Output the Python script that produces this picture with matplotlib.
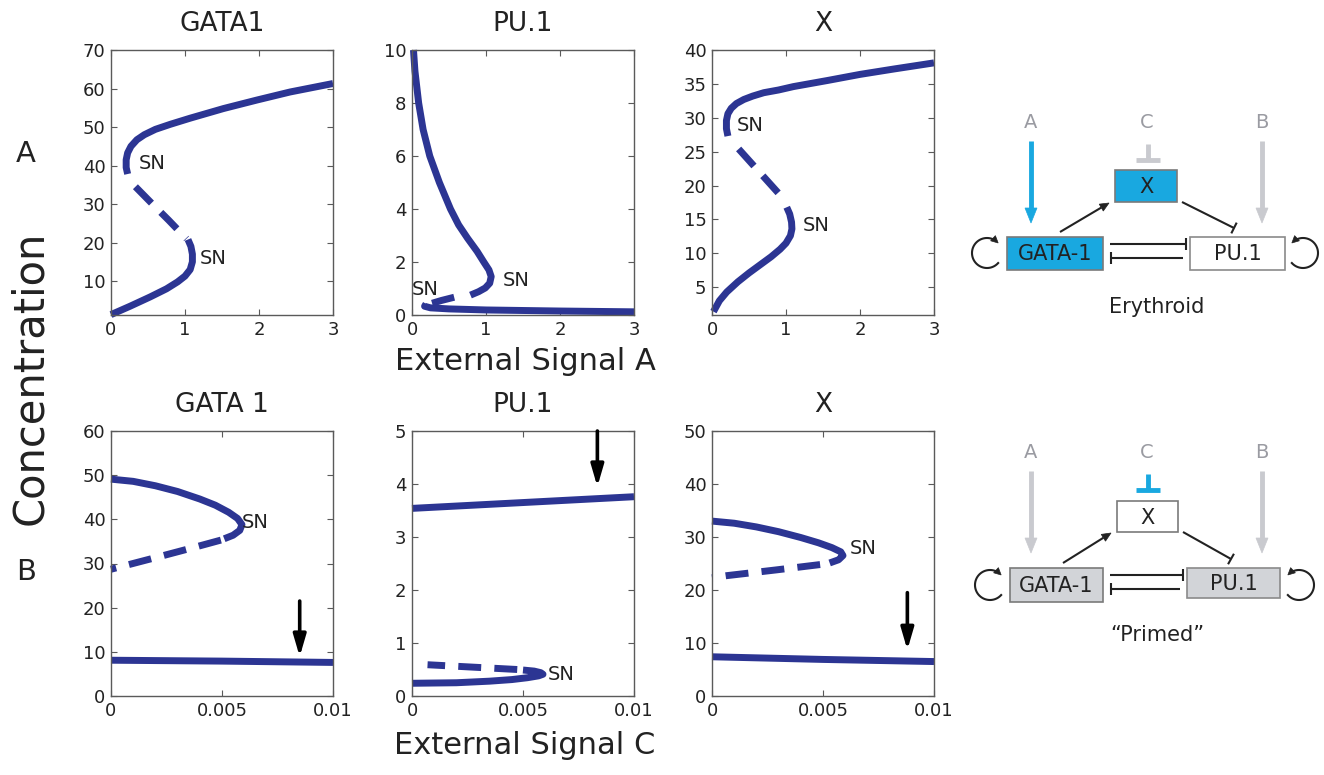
import numpy as np
import matplotlib
matplotlib.use('Agg')
import matplotlib.pyplot as plt
from matplotlib.patches import Rectangle, Polygon

plt.rcParams['font.family'] = ['DejaVu Sans']

BLUE = '#2c3593'
CYAN = '#19a8e0'
LGRAY = '#c9cacf'
TGRAY = '#9a9ba2'
BOXGRAY = '#d2d4d8'

# ---------------- Row A : External Signal A ----------------
# GATA1
gA_up_x = [0.225, 0.205, 0.205, 0.225, 0.27, 0.35, 0.45, 0.60, 0.80, 1.07, 1.52, 1.97, 2.42, 3.0]
gA_up_y = [37.8, 39.5, 41.5, 43.3, 45.0, 46.7, 48.0, 49.4, 50.7, 52.3, 54.8, 57.0, 59.1, 61.3]
gA_un_x = [0.33, 0.55, 0.78, 1.02]
gA_un_y = [34.5, 30.2, 25.8, 21.0]
gA_lo_x = [1.04, 1.08, 1.10, 1.10, 1.07, 1.0, 0.9, 0.75, 0.53, 0.26, 0.0]
gA_lo_y = [20.8, 19.0, 17.0, 15.0, 13.0, 11.3, 9.8, 8.0, 5.9, 3.5, 1.3]
# PU.1
pA_up_x = [0.02, 0.04, 0.09, 0.15, 0.24, 0.37, 0.52, 0.63, 0.75, 0.88, 0.97, 1.04, 1.07, 1.05, 0.99, 0.90, 0.79]
pA_up_y = [10.0, 9.2, 8.0, 7.0, 6.0, 5.0, 4.0, 3.4, 2.9, 2.4, 2.0, 1.7, 1.45, 1.2, 1.02, 0.88, 0.75]
pA_un_x = [0.57, 0.40, 0.22]
pA_un_y = [0.67, 0.55, 0.40]
pA_lo_x = [0.19, 0.17, 0.25, 0.5, 1.0, 2.0, 3.0]
pA_lo_y = [0.42, 0.33, 0.27, 0.23, 0.19, 0.15, 0.12]
# X
xA_up_x = [0.215, 0.195, 0.195, 0.215, 0.26, 0.33, 0.43, 0.55, 0.70, 0.90, 1.10, 1.56, 2.0, 2.46, 3.0]
xA_up_y = [27.3, 28.4, 29.6, 30.6, 31.4, 32.1, 32.7, 33.2, 33.7, 34.1, 34.6, 35.5, 36.4, 37.2, 38.1]
xA_un_x = [0.36, 0.97]
xA_un_y = [25.4, 18.0]
xA_lo_x = [1.01, 1.05, 1.075, 1.08, 1.06, 1.0, 0.92, 0.80, 0.65, 0.50, 0.35, 0.20, 0.10, 0.02]
xA_lo_y = [16.8, 15.8, 14.6, 13.6, 12.6, 11.5, 10.6, 9.5, 8.3, 7.1, 5.8, 4.3, 3.0, 1.4]

# ---------------- Row B : External Signal C ----------------
gC_up_x = [0.0, 0.001, 0.002, 0.003, 0.004, 0.0047, 0.0053, 0.0057, 0.0059, 0.0058, 0.0055, 0.0051]
gC_up_y = [49.1, 48.6, 47.6, 46.3, 44.6, 43.2, 41.6, 40.2, 38.8, 37.5, 36.4, 35.6]
gC_un_x = [0.00495, 0.00356, 0.00206, 0.0]
gC_un_y = [35.3, 33.4, 31.4, 28.7]
gC_lo_x = [0.0, 0.005, 0.01]
gC_lo_y = [8.1, 7.9, 7.6]

pC_hi_x = [0.0, 0.005, 0.01]
pC_hi_y = [3.54, 3.65, 3.76]
pC_lo_x = [0.0, 0.002, 0.0035, 0.0045, 0.0052, 0.0057, 0.0059, 0.0058, 0.0055, 0.0050]
pC_lo_y = [0.24, 0.25, 0.28, 0.31, 0.345, 0.38, 0.41, 0.44, 0.47, 0.49]
pC_un_x = [0.00474, 0.0007]
pC_un_y = [0.50, 0.59]

xC_up_x = [0.0, 0.001, 0.002, 0.003, 0.004, 0.0048, 0.0054, 0.0058, 0.0059, 0.0057, 0.0053]
xC_up_y = [33.0, 32.6, 31.9, 31.0, 29.9, 28.9, 28.0, 27.2, 26.5, 25.7, 25.1]
xC_un_x = [0.00487, 0.00291, 0.00065, 0.0]
xC_un_y = [24.8, 23.8, 22.7, 22.3]
xC_lo_x = [0.0, 0.005, 0.01]
xC_lo_y = [7.4, 6.9, 6.5]

# arrows (x, y_start, y_end)
arrow_gC = (0.0085, 21.5, 8.9)
arrow_pC = (0.00835, 5.0, 3.95)
arrow_xC = (0.0088, 19.5, 8.7)

# SN labels (x, y)
sn_gA = [(0.38, 40.5), (1.2, 15.8)]
sn_pA = [(0.0, 0.95), (1.22, 1.3)]
sn_xA = [(0.33, 28.8), (1.22, 14.1)]
sn_gC = [(0.0059, 39.3)]
sn_pC = [(0.0061, 0.40)]
sn_xC = [(0.0062, 27.9)]

titles_A = ['GATA1', 'PU.1', 'X']
titles_C = ['GATA 1', 'PU.1', 'X']

xticks_A = [0, 1, 2, 3]
xticks_C = [0, 0.005, 0.01]
xticklabels_C = ['0', '0.005', '0.01']
yticks = {
    'gA': [10, 20, 30, 40, 50, 60, 70], 'pA': [0, 2, 4, 6, 8, 10],
    'xA': [5, 10, 15, 20, 25, 30, 35, 40],
    'gC': [0, 10, 20, 30, 40, 50, 60], 'pC': [0, 1, 2, 3, 4, 5],
    'xC': [0, 10, 20, 30, 40, 50],
}
ylims = {'gA': (1.2, 70), 'pA': (0, 10), 'xA': (0.9, 40),
         'gC': (0, 60), 'pC': (0, 5), 'xC': (0, 50)}

W, H = 1324, 775
fig = plt.figure(figsize=(W / 100, H / 100), dpi=100)

lefts = [111, 412, 712]
aw, ah = 222, 265
tops = [50, 431]


def mk_ax(col, row):
    l = lefts[col]
    t = tops[row]
    return fig.add_axes([l / W, 1 - (t + ah) / H, aw / W, ah / H])


def style(ax):
    for s in ax.spines.values():
        s.set_color('#5a5a5a')
        s.set_linewidth(1.0)
    ax.tick_params(direction='in', top=True, right=True, length=4, width=0.8,
                   color='#5a5a5a', labelsize=13, labelcolor='#222222', pad=4)


LW = 5
DASH = (0, (3.3, 1.9))


def solid(ax, x, y):
    ax.plot(x, y, color=BLUE, lw=LW, solid_capstyle='butt', solid_joinstyle='round', clip_on=False)


def dashed(ax, x, y):
    ax.plot(x, y, color=BLUE, lw=LW, linestyle=DASH, dash_capstyle='butt', clip_on=False)


def sn(ax, pts):
    for (px, py) in pts:
        ax.text(px, py, 'SN', fontsize=14, ha='left', va='center', color='#222222')


def karrow(ax, a):
    ax.annotate('', xy=(a[0], a[2]), xytext=(a[0], a[1]),
                arrowprops=dict(arrowstyle='-|>,head_width=0.38,head_length=1.3',
                                color='black', lw=2.6, shrinkA=0, shrinkB=0,
                                mutation_scale=10))


# Row A
axes_A = [mk_ax(i, 0) for i in range(3)]
ax = axes_A[0]
solid(ax, gA_up_x, gA_up_y); dashed(ax, gA_un_x, gA_un_y); solid(ax, gA_lo_x, gA_lo_y)
sn(ax, sn_gA)
ax.set_ylim(*ylims['gA']); ax.set_yticks(yticks['gA'])
ax = axes_A[1]
solid(ax, pA_up_x, pA_up_y); dashed(ax, pA_un_x, pA_un_y); solid(ax, pA_lo_x, pA_lo_y)
sn(ax, sn_pA)
ax.set_ylim(*ylims['pA']); ax.set_yticks(yticks['pA'])
ax = axes_A[2]
solid(ax, xA_up_x, xA_up_y); dashed(ax, xA_un_x, xA_un_y); solid(ax, xA_lo_x, xA_lo_y)
sn(ax, sn_xA)
ax.set_ylim(*ylims['xA']); ax.set_yticks(yticks['xA'])
for ax, t in zip(axes_A, titles_A):
    ax.set_xlim(0, 3)
    ax.set_xticks(xticks_A)
    ax.set_title(t, fontsize=19, pad=14, color='#222222')
    style(ax)

# Row B
axes_C = [mk_ax(i, 1) for i in range(3)]
ax = axes_C[0]
solid(ax, gC_up_x, gC_up_y); dashed(ax, gC_un_x, gC_un_y); solid(ax, gC_lo_x, gC_lo_y)
sn(ax, sn_gC); karrow(ax, arrow_gC)
ax.set_ylim(*ylims['gC']); ax.set_yticks(yticks['gC'])
ax = axes_C[1]
solid(ax, pC_hi_x, pC_hi_y); solid(ax, pC_lo_x, pC_lo_y); dashed(ax, pC_un_x, pC_un_y)
sn(ax, sn_pC); karrow(ax, arrow_pC)
ax.set_ylim(*ylims['pC']); ax.set_yticks(yticks['pC'])
ax = axes_C[2]
solid(ax, xC_up_x, xC_up_y); dashed(ax, xC_un_x, xC_un_y); solid(ax, xC_lo_x, xC_lo_y)
sn(ax, sn_xC); karrow(ax, arrow_xC)
ax.set_ylim(*ylims['xC']); ax.set_yticks(yticks['xC'])
for ax, t in zip(axes_C, titles_C):
    ax.set_xlim(0, 0.01)
    ax.set_xticks(xticks_C)
    ax.set_xticklabels(xticklabels_C)
    ax.set_title(t, fontsize=19, pad=14, color='#222222')
    style(ax)

# ---------------- overlay (labels + diagrams) in pixel coords ----------------
ov = fig.add_axes([0, 0, 1, 1])
ov.set_xlim(0, W)
ov.set_ylim(H, 0)
ov.axis('off')
ov.patch.set_alpha(0)

ov.text(525, 362, 'External Signal A', fontsize=22, ha='center', va='center', color='#222222')
ov.text(525, 745, 'External Signal C', fontsize=22, ha='center', va='center', color='#222222')
ov.text(30, 378, 'Concentration', fontsize=30, rotation=90, ha='center', va='center', color='#222222')
ov.text(26, 154, 'A', fontsize=21, ha='center', va='center', color='#222222')
ov.text(26, 572, 'B', fontsize=21, ha='center', va='center', color='#222222')


def box(x0, y0, x1, y1, text, fc, ec):
    ov.add_patch(Rectangle((x0, y0), x1 - x0, y1 - y0, facecolor=fc, edgecolor=ec, lw=1.2))
    ov.text((x0 + x1) / 2, (y0 + y1) / 2 + 1, text, ha='center', va='center',
            fontsize=15, color='#222222')


def head(tipx, tipy, dx, dy, length, half, color):
    L = np.hypot(dx, dy)
    ux, uy = dx / L, dy / L
    px, py = -uy, ux
    bx, by = tipx - ux * length, tipy - uy * length
    ov.add_patch(Polygon([(tipx, tipy), (bx + px * half, by + py * half),
                          (bx - px * half, by - py * half)], closed=True,
                         facecolor=color, edgecolor=color, lw=0.5))
    return bx, by


def arr(x0, y0, x1, y1, color, lw, hl, hw):
    bx, by = head(x1, y1, x1 - x0, y1 - y0, hl, hw, color)
    ov.plot([x0, bx], [y0, by], color=color, lw=lw, solid_capstyle='butt')


def tbar(x0, y0, x1, y1, color, lw, half):
    ov.plot([x0, x1], [y0, y1], color=color, lw=lw, solid_capstyle='butt')
    dx, dy = x1 - x0, y1 - y0
    L = np.hypot(dx, dy)
    px, py = -dy / L, dx / L
    ov.plot([x1 - px * half, x1 + px * half], [y1 - py * half, y1 + py * half],
            color=color, lw=lw, solid_capstyle='butt')


def loop(cx, cy, r, side):
    if side == 'left':
        t = np.radians(np.linspace(318, 42, 80))
    else:
        t = np.radians(np.linspace(222, 498, 80))
    xs = cx + r * np.cos(t)
    ys = cy - r * np.sin(t)
    ov.plot(xs[:-6], ys[:-6], color='#222222', lw=1.5)
    head(xs[-1], ys[-1], xs[-1] - xs[-4], ys[-1] - ys[-4], 7, 3.5, '#222222')


def diagram(dy, a_col, c_col, gata_fc, pu_fc, x_fc, label,
            xbox, gbox, pbox, loops):
    ov.text(1031, 123 + dy, 'A', fontsize=14, ha='center', va='center', color=TGRAY)
    ov.text(1147, 123 + dy, 'C', fontsize=14, ha='center', va='center', color=TGRAY)
    ov.text(1262, 123 + dy, 'B', fontsize=14, ha='center', va='center', color=TGRAY)
    arr(1031, 141 + dy, 1031, 223 + dy, a_col, 3.5, 15, 6)
    arr(1262, 141 + dy, 1262, 223 + dy, LGRAY, 3.5, 15, 6)
    tbar(1148, 144 + dy, 1148, 160 + dy, c_col, 3.5, 12)
    box(*xbox, 'X', x_fc, '#7a7a7a')
    box(*gbox, 'GATA-1', gata_fc, '#7a7a7a')
    box(*pbox, 'PU.1', pu_fc, '#8a8a8a')
    # GATA-1 -> X
    arr(gbox[0] + 53, gbox[1] - 5, xbox[0] - 6, xbox[3] + 1, '#222222', 1.5, 9, 4)
    # X -| PU.1
    tbar(xbox[2] + 5, xbox[3], pbox[0] + 44, pbox[1] - 9, '#222222', 1.5, 6)
    # mutual inhibition
    tbar(gbox[2] + 7, gbox[1] + 7, pbox[0] - 4, gbox[1] + 7, '#222222', 1.5, 6)
    tbar(pbox[0] - 7, gbox[1] + 21, gbox[2] + 8, gbox[1] + 21, '#222222', 1.5, 6)
    loop(*loops[0], 15, 'left')
    loop(*loops[1], 15, 'right')
    ov.text(1157, 307 + dy * 0.994, label, fontsize=15, ha='center', va='center', color='#222222')


diagram(0, CYAN, LGRAY, CYAN, 'white', CYAN, 'Erythroid',
        (1115, 170, 1177, 202), (1007, 237, 1103, 270), (1190, 237, 1285, 270),
        [(987, 253), (1303, 253)])
diagram(330, LGRAY, CYAN, BOXGRAY, BOXGRAY, 'white', '\u201cPrimed\u201d',
        (1117, 501, 1178, 532), (1010, 568, 1103, 602), (1187, 568, 1280, 598),
        [(990, 585), (1299, 585)])

fig.savefig('out.png', dpi=100)
